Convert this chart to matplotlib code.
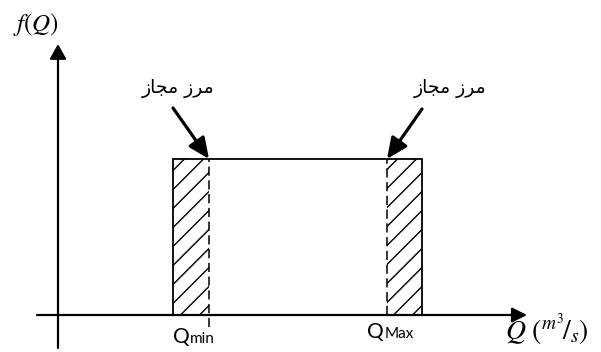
import numpy as np
import matplotlib
matplotlib.use("Agg")
import matplotlib.pyplot as plt
from matplotlib.patches import Rectangle, FancyArrowPatch

plt.rcParams["mathtext.fontset"] = "stix"

# schematic values (units ~ pixels, origin at axis crossing)
q_edges = [115, 364]          # uniform distribution support
q_limits = [151, 329]         # allowed bounds Qmin / QMax
f_height = 156
limit_names = ["min", "Max"]
limit_label = "مرز مجاز"
# Persian shaped for left-to-right glyph layout (presentation forms, visual order)
limit_label_shaped = "\uFEAF\uFE8E\uFEA0\uFEE3 \uFEAF\uFEAE\uFEE3"

fig = plt.figure(figsize=(6.01, 3.52), dpi=100)
ax = fig.add_axes([0, 0, 1, 1])
ax.set_xlim(-58, 543)
ax.set_ylim(-37, 315)
ax.axis("off")


def hatch(x0, x1, h, step=19):
    clip = Rectangle((x0, 0), x1 - x0, h, fill=False, lw=0)
    ax.add_patch(clip)
    for c in np.arange(x1 - step / 2, x0 - h - step, -step):
        ln, = ax.plot([c, c + h + 40], [0, h + 40], color="black", lw=1.0)
        ln.set_clip_path(clip)


# axes with arrows
ax.add_patch(FancyArrowPatch((-21, 0), (469, 0), arrowstyle="-|>,head_length=0.5,head_width=0.25",
                             mutation_scale=18, lw=1.6, color="black", shrinkA=0, shrinkB=0))
ax.add_patch(FancyArrowPatch((0, -33), (0, 271), arrowstyle="-|>,head_length=0.5,head_width=0.28",
                             mutation_scale=18, lw=1.6, color="black", shrinkA=0, shrinkB=0))

# hatched tails
hatch(q_edges[0], q_limits[0], f_height)
hatch(q_limits[1], q_edges[1], f_height)

# outline of distribution
ax.plot([q_edges[0], q_edges[0], q_edges[1], q_edges[1]], [0, f_height, f_height, 0],
        color="black", lw=1.3, solid_joinstyle="miter")

# dashed limit lines
ax.plot([q_limits[0], q_limits[0]], [-12, f_height], color="black", lw=1.1, dashes=(6, 3))
ax.plot([q_limits[1], q_limits[1]], [0, f_height], color="black", lw=1.1, dashes=(6, 3))

# annotation arrows + labels
arrow_style = "-|>,head_length=0.6,head_width=0.27"
tails = [(115, 207), (364, 206)]
text_pos = [(120, 226), (392, 226)]
for q, tail, tp in zip(q_limits, tails, text_pos):
    ax.add_patch(FancyArrowPatch(tail, (q, f_height), arrowstyle=arrow_style,
                                 mutation_scale=21, lw=2.3, color="black",
                                 shrinkA=0, shrinkB=0))
    ax.text(tp[0], tp[1], limit_label_shaped, family="DejaVu Sans", fontsize=13.5,
            ha="center", va="center")

# Qmin / QMax labels
label_pos = [(115, -22), (309, -17)]
for name, lp in zip(limit_names, label_pos):
    t = ax.text(lp[0], lp[1], "Q", family="Lato", fontsize=15, ha="left", va="center")
    ax.annotate(name, xy=(1, 0), xycoords=t, xytext=(0.3, 1), textcoords="offset points",
                family="Lato", fontsize=11, ha="left", va="bottom")

# axis labels
ax.text(-22, 290, r"$f(Q)$", fontsize=18, ha="center", va="center")
ax.text(447, -15, r"$Q\ ({}^{m^3}\!/_{s})$", fontsize=20, ha="left", va="center")

fig.savefig("out.png", dpi=100)
